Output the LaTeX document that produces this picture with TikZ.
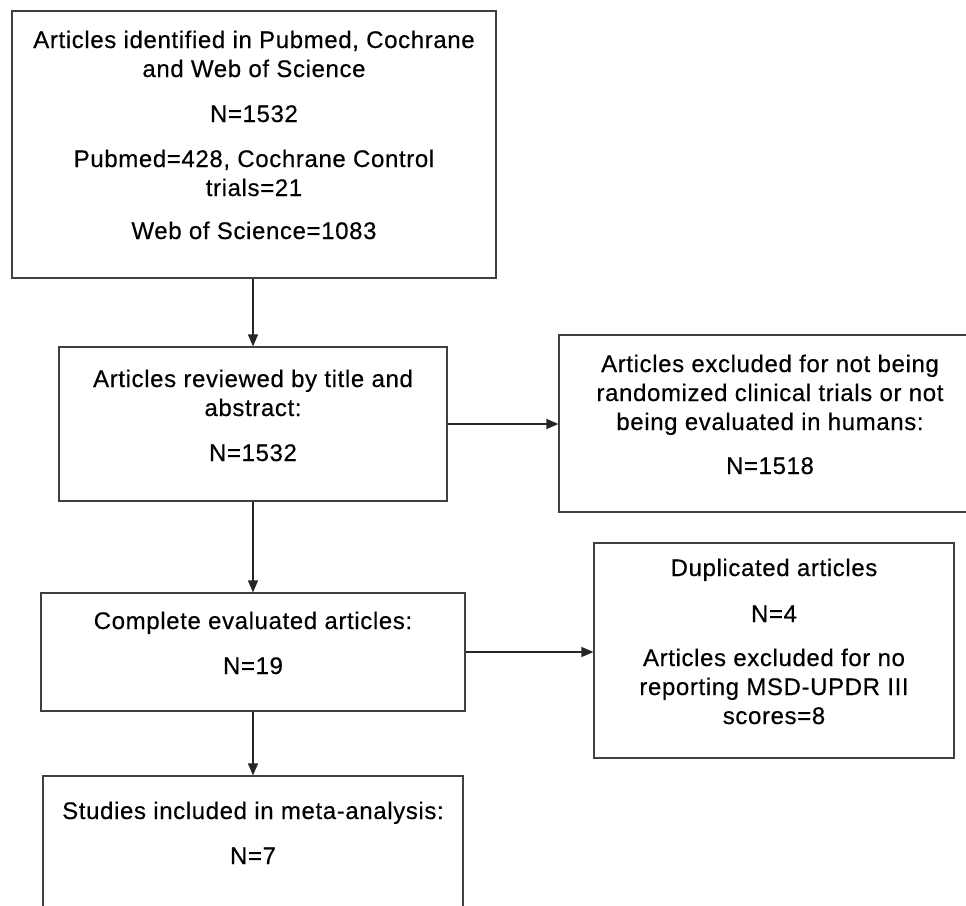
\documentclass[tikz,border=0pt]{standalone}
\usepackage{fontspec}
\setmainfont{Liberation Sans}[LetterSpace=2.6,FakeBold=0.4]
\usetikzlibrary{arrows.meta}
\begin{document}
\begin{tikzpicture}[x=1pt,y=-1pt,
  box/.style={draw=black!75,line width=1.2pt,rectangle,inner sep=0pt,fill=none},
  txt/.style={inner sep=0pt,anchor=base,font=\fontsize{24}{29}\selectfont,text=black},
  arr/.style={draw=black!85,line width=1.2pt,-{Triangle[length=12pt,width=10pt]}}]
\useasboundingbox (0,0) rectangle (966,905);
\fill[white] (0,0) rectangle (966,905);
% boxes
\node[box,minimum width=484pt,minimum height=267pt] (b1) at (254,144.5) {};
\node[box,minimum width=388pt,minimum height=154pt] (b2) at (253,424) {};
\node[box,minimum width=422pt,minimum height=177pt] (b3) at (770,423.5) {};
\node[box,minimum width=360pt,minimum height=215pt] (b4) at (774,650.5) {};
\node[box,minimum width=424pt,minimum height=118pt] (b5) at (253,652) {};
\node[box,minimum width=420pt,minimum height=154pt] (b6) at (253,853) {};
% texts box 1
\node[txt] (t1a) at (254,48) {Articles identified in Pubmed, Cochrane};
\node[txt] (t1b) at (254,77) {and Web of Science};
\node[txt] (t1c) at (254,122) {N=1532};
\node[txt] (t1d) at (254,167) {Pubmed=428, Cochrane Control};
\node[txt] (t1e) at (254,196) {trials=21};
\node[txt] (t1f) at (254,239) {Web of Science=1083};
% box 2
\node[txt] (t2a) at (253,387) {Articles reviewed by title and};
\node[txt] (t2b) at (253,416) {abstract:};
\node[txt] (t2c) at (253,461) {N=1532};
% box 3
\node[txt] (t3a) at (770,372) {Articles excluded for not being};
\node[txt] (t3b) at (770,401) {randomized clinical trials or not};
\node[txt] (t3c) at (770,430) {being evaluated in humans:};
\node[txt] (t3d) at (770,474) {N=1518};
% box 4
\node[txt] (t4a) at (774,576) {Duplicated articles};
\node[txt] (t4b) at (774,622) {N=4};
\node[txt] (t4c) at (774,666) {Articles excluded for no};
\node[txt] (t4d) at (774,695) {reporting MSD-UPDR III};
\node[txt] (t4e) at (774,724) {scores=8};
% box 5
\node[txt] (t5a) at (253,629) {Complete evaluated articles:};
\node[txt] (t5b) at (253,674) {N=19};
% box 6
\node[txt] (t6a) at (253,819) {Studies included in meta-analysis:};
\node[txt] (t6b) at (253,864) {N=7};
% connectors
\draw[arr] (b2.north |- b1.south) -- (b2.north);
\draw[arr] (b2.east) -- (b3.west |- b2.east);
\draw[arr] (b2.south) -- (b5.north);
\draw[arr] (b5.east) -- (b4.west |- b5.east);
\draw[arr] (b5.south) -- (b6.north);
\end{tikzpicture}
\end{document}
